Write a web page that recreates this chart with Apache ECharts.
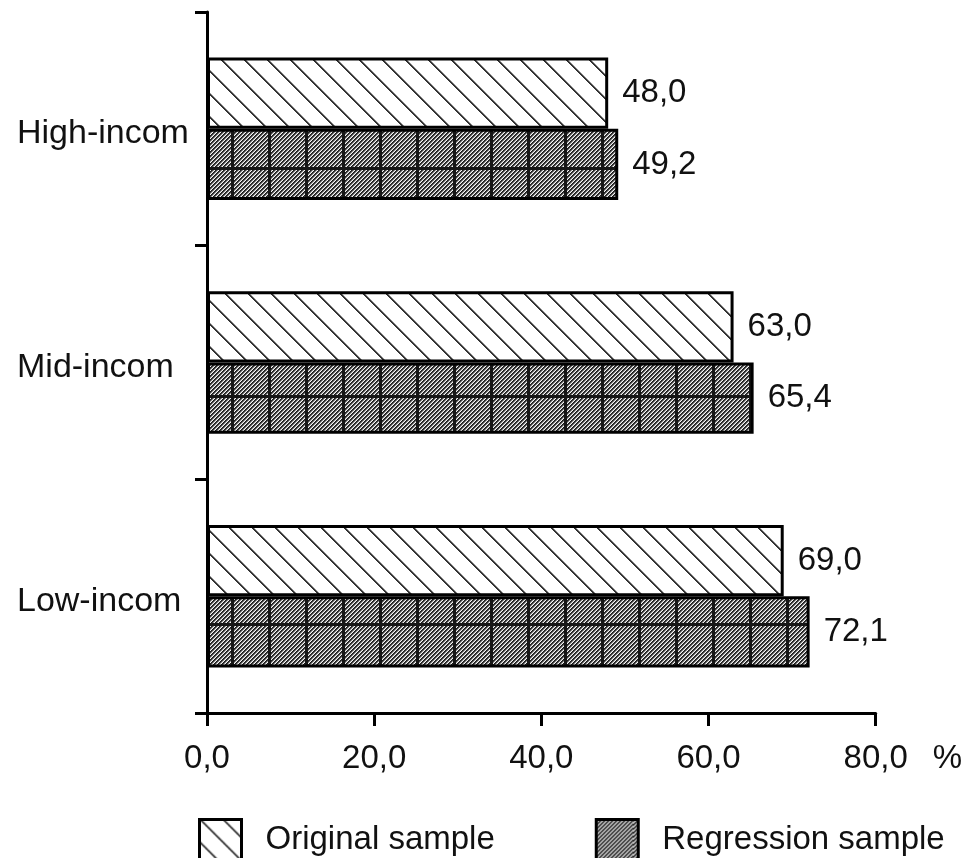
<!DOCTYPE html>
<html>
<head>
<meta charset="utf-8">
<script src="https://cdn.jsdelivr.net/npm/echarts@6/dist/echarts.min.js"></script>
<style>
  html, body { margin: 0; padding: 0; background: #fff; }
  #chart { width: 965px; height: 858px; }
</style>
</head>
<body>
<div id="chart"></div>
<script>
// Income groups and shares (%) for the two samples
const categories = ['High-incom', 'Mid-incom', 'Low-incom'];
const originalSample = [48.0, 63.0, 69.0];
const regressionSample = [49.2, 65.4, 72.1];
const xTicks = [0, 20, 40, 60, 80];
const seriesNames = ['Original sample', 'Regression sample'];

const FONT = "'Liberation Sans', Arial, sans-serif";
const fmt = v => v.toFixed(1).replace('.', ',');

// Sparse backslash hatch on white
function makeSparseHatch() {
  const n = 23;
  const c = document.createElement('canvas');
  c.width = n; c.height = n;
  const ctx = c.getContext('2d');
  ctx.fillStyle = '#fff';
  ctx.fillRect(0, 0, n, n);
  for (let j = 0; j < n; j++) {
    for (let i = 0; i < n; i++) {
      const d = ((i - j) % n + n) % n;
      if (d === 0 || d === 1) { ctx.fillStyle = '#333'; ctx.fillRect(i, j, 1, 1); }
      else if (d === 2) { ctx.fillStyle = '#9a9a9a'; ctx.fillRect(i, j, 1, 1); }
    }
  }
  return c;
}

// Dense slash hatch, optionally with a coarse grid of dark lines
function makeDenseHatch(withGrid) {
  const w = 37, h = 76;
  const c = document.createElement('canvas');
  c.width = w; c.height = h;
  const ctx = c.getContext('2d');
  const shades = ['#1c1c1c', '#3a3a3a', '#9a9a9a', '#f4f4f4'];
  for (let j = 0; j < h; j++) {
    for (let i = 0; i < w; i++) {
      ctx.fillStyle = shades[(i + j) % 4];
      ctx.fillRect(i, j, 1, 1);
    }
  }
  if (withGrid) {
    ctx.fillStyle = '#161616';
    ctx.fillRect(0, 0, 3, h);
    ctx.fillRect(0, 0, w, 3);
  }
  return c;
}

const sparsePattern = { image: makeSparseHatch(), repeat: 'repeat' };
const gridPattern = { image: makeDenseHatch(true), repeat: 'repeat', x: 9, y: 15 };
const plainDensePattern = { image: makeDenseHatch(false), repeat: 'repeat' };

const chart = echarts.init(document.getElementById('chart'), null, { renderer: 'canvas' });

const labelCfg = {
  show: true,
  position: 'right',
  distance: 14,
  fontSize: 33,
  fontFamily: FONT,
  color: '#111',
  formatter: p => fmt(p.value)
};

chart.setOption({
  animation: false,
  backgroundColor: '#fff',
  textStyle: { fontFamily: FONT },
  grid: { left: 207, right: 88, top: 12, bottom: 145, containLabel: false },
  legend: {
    left: 193,
    top: 813,
    icon: 'rect',
    itemWidth: 42,
    itemHeight: 40,
    itemGap: 100,
    data: [
      { name: seriesNames[0], itemStyle: { color: sparsePattern, borderColor: '#000', borderWidth: 3 } },
      { name: seriesNames[1], itemStyle: { color: plainDensePattern, borderColor: '#000', borderWidth: 3 } }
    ],
    textStyle: { fontSize: 33, fontFamily: FONT, color: '#111', padding: [0, 0, 0, 19] }
  },
  xAxis: {
    type: 'value',
    min: xTicks[0],
    max: xTicks[xTicks.length - 1],
    interval: xTicks[1] - xTicks[0],
    name: '%',
    nameLocation: 'end',
    nameGap: 57,
    nameTextStyle: { fontSize: 33, fontFamily: FONT, color: '#111', verticalAlign: 'top', padding: [29, 0, 0, 0] },
    axisLine: { show: true, lineStyle: { color: '#000', width: 3 } },
    axisTick: { show: true, length: 13, lineStyle: { color: '#000', width: 3 } },
    splitLine: { show: false },
    axisLabel: { fontSize: 33, fontFamily: FONT, color: '#111', margin: 29, formatter: v => fmt(v) }
  },
  yAxis: {
    type: 'category',
    inverse: true,
    data: categories,
    axisLine: { show: true, lineStyle: { color: '#000', width: 3 } },
    axisTick: { show: true, length: 12, lineStyle: { color: '#000', width: 3 } },
    axisLabel: { fontSize: 34, fontFamily: FONT, color: '#111', margin: 190, align: 'left', verticalAlign: 'top', padding: [5, 0, 0, 0], lineHeight: 0 }
  },
  series: [
    {
      name: seriesNames[0],
      type: 'bar',
      data: originalSample,
      barCategoryGap: '39%',
      barGap: '0%',
      itemStyle: { color: sparsePattern, borderColor: '#000', borderWidth: 3 },
      label: labelCfg
    },
    {
      name: seriesNames[1],
      type: 'bar',
      data: regressionSample,
      barCategoryGap: '39%',
      barGap: '0%',
      itemStyle: { color: gridPattern, borderColor: '#000', borderWidth: 3 },
      label: labelCfg
    }
  ]
});
</script>
</body>
</html>
